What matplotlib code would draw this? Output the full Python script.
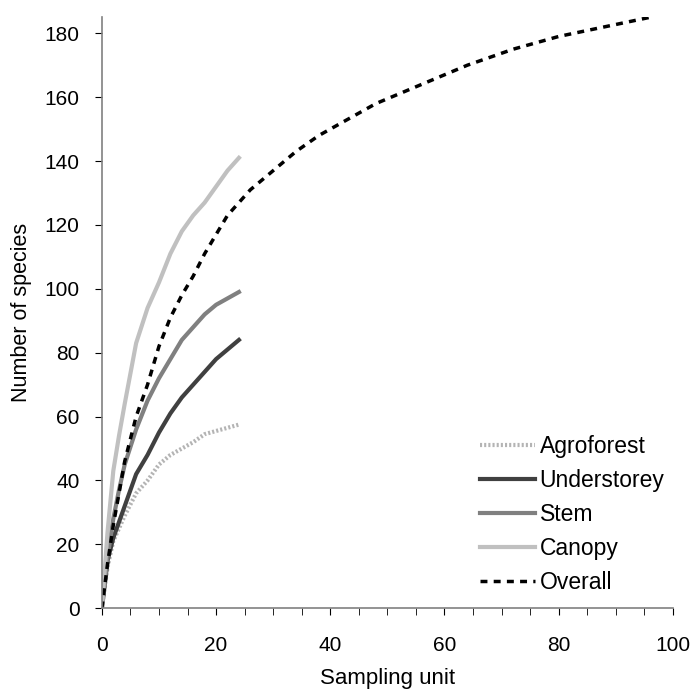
"""Courbes d'accumulation d'especes par strate."""

import matplotlib
matplotlib.use("Agg")
import matplotlib.pyplot as plt
from matplotlib.ticker import MultipleLocator

plt.rcParams["font.family"] = ["Liberation Sans", "DejaVu Sans"]

# unites d'echantillonnage (24 par strate, 96 au total)
units_sub = [0, 1, 2, 3, 4, 6, 8, 10, 12, 14, 16, 18, 20, 22, 24]
agroforest = [0, 13, 21, 25, 29, 36, 40, 45, 48, 50, 52, 54.5, 55.5, 56.5, 57.5]
understorey = [0, 15, 22, 27, 32, 42, 48, 55, 61, 66, 70, 74, 78, 81, 84]
stem = [0, 16, 28, 37, 45, 56, 65, 72, 78, 84, 88, 92, 95, 97, 99]
canopy = [0, 24, 43, 54, 64, 83, 94, 102, 111, 118, 123, 127, 132, 137, 141]

units_all = [0, 1, 2, 3, 4, 6, 8, 10, 12, 14, 16, 18, 20, 22, 24, 26, 30,
             34, 38, 42, 48, 56, 64, 72, 80, 88, 96]
overall = [0, 14, 26, 36, 46, 60, 70, 82, 91, 98, 104, 111, 117, 123, 127,
           131, 137, 143, 148, 152, 158, 164, 170, 175, 179, 182, 185]

fig = plt.figure(figsize=(6.93, 6.92), dpi=100)
ax = fig.add_axes([0.147, 0.121, 0.824, 0.854])

ax.plot(units_sub, agroforest, color="#b4b4b4", lw=3, ls=(0, (0.5, 0.5)),
        label="Agroforest")
ax.plot(units_sub, understorey, color="#404040", lw=3, label="Understorey")
ax.plot(units_sub, stem, color="#808080", lw=3, label="Stem")
ax.plot(units_sub, canopy, color="#c0c0c0", lw=3, label="Canopy")
ax.plot(units_all, overall, color="black", lw=2.5, ls=(0, (2, 1.8)),
        label="Overall")

ax.set_xlim(0, 100)
ax.set_ylim(0, 185)
ax.xaxis.set_major_locator(MultipleLocator(20))
ax.xaxis.set_minor_locator(MultipleLocator(5))
ax.yaxis.set_major_locator(MultipleLocator(20))
for side in ("top", "right"):
    ax.spines[side].set_visible(False)
for side in ("left", "bottom"):
    ax.spines[side].set_color("#808080")
    ax.spines[side].set_linewidth(1.2)
ax.tick_params(axis="both", which="both", length=5, color="black",
               labelsize=15)
ax.tick_params(axis="x", which="major", pad=15)
ax.tick_params(axis="y", which="major", pad=11)

ax.set_xlabel("Sampling unit", fontsize=16, labelpad=9)
ax.set_ylabel("Number of species", fontsize=15.5, labelpad=9)

ax.legend(loc="upper left", bbox_to_anchor=(480 / 693, 1 - 435 / 692),
          bbox_transform=fig.transFigure, frameon=False, fontsize=16.5,
          handlelength=2.4, handletextpad=0.2, labelspacing=0.48,
          borderpad=0, borderaxespad=0)

fig.savefig("out.png", dpi=100)
